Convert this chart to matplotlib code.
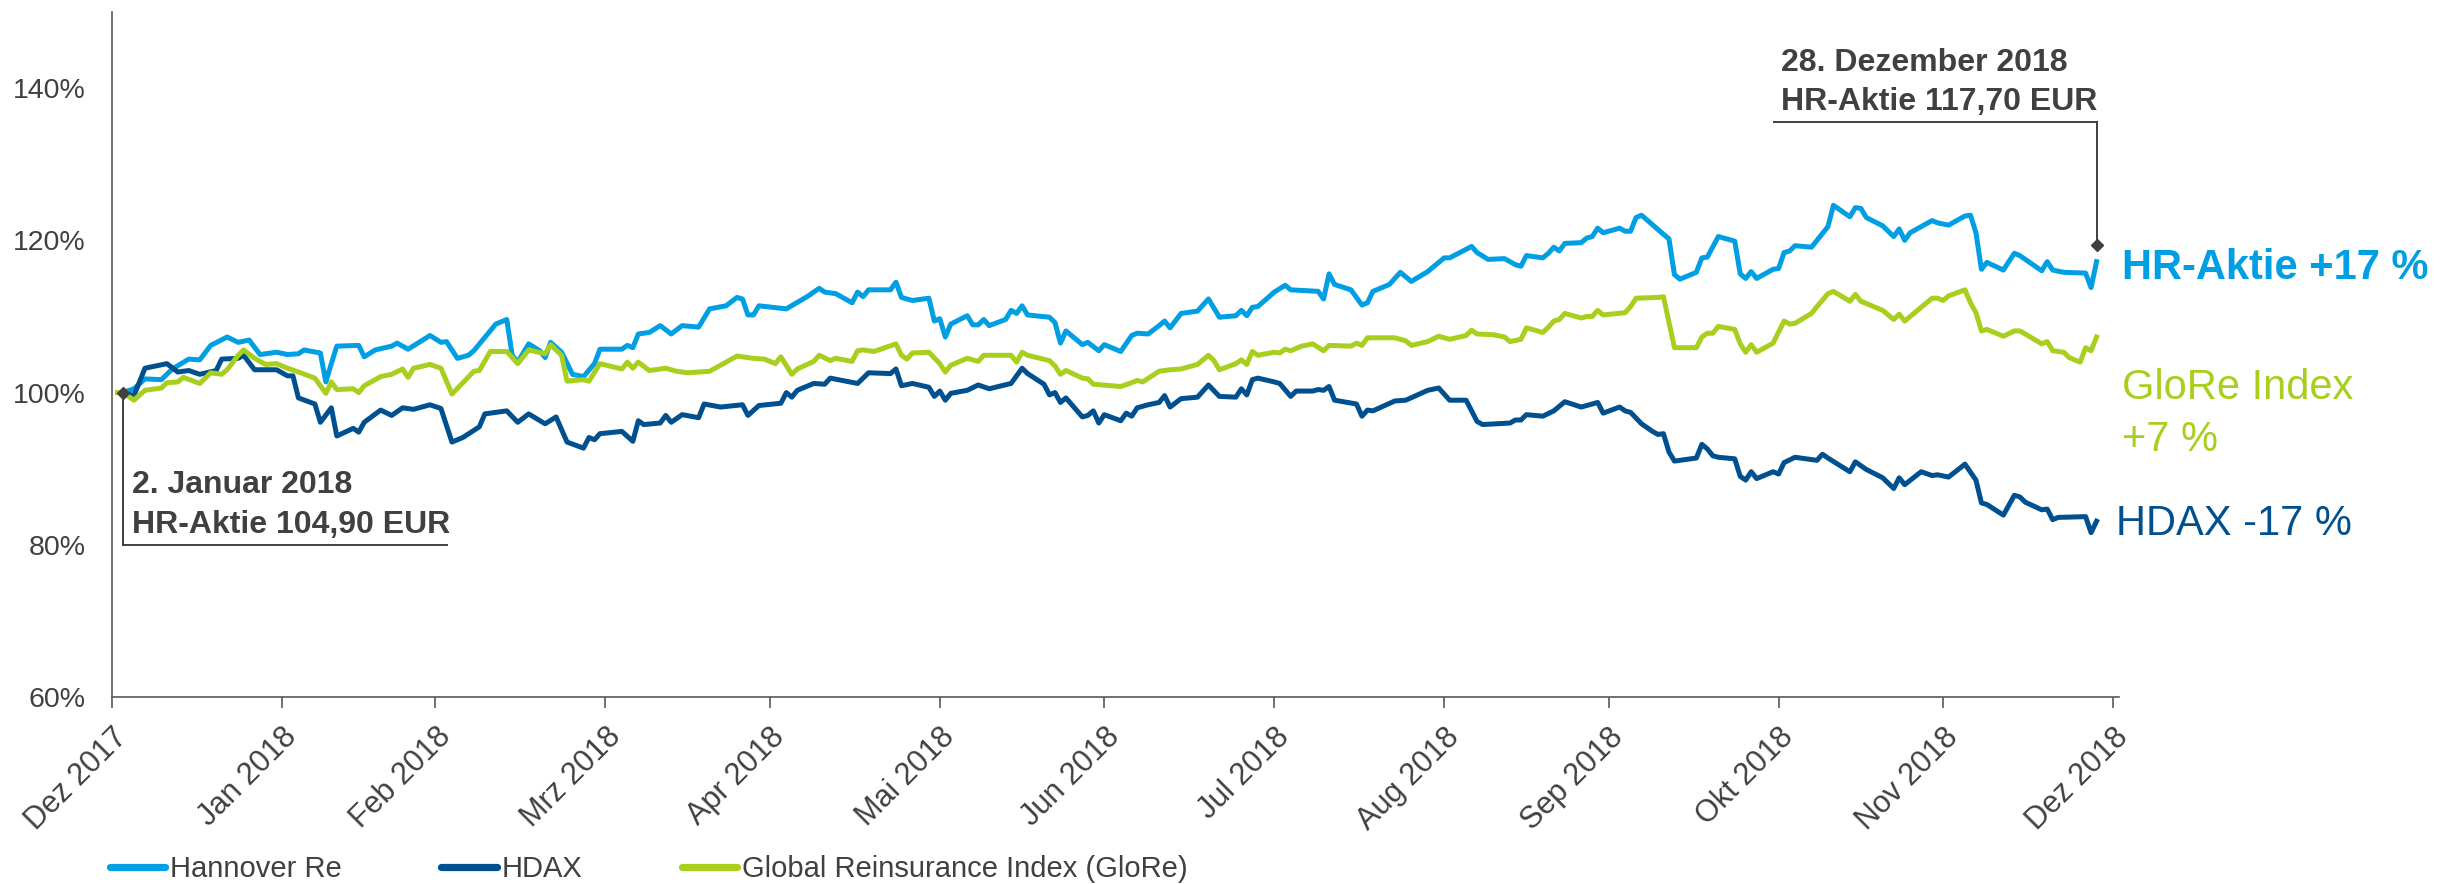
import matplotlib
matplotlib.use("Agg")
import matplotlib.pyplot as plt
import matplotlib.transforms as mtransforms
import numpy as np
import pandas as pd

# Tage ab dem 31.12.2017 (Tag 0) und Wertentwicklung in % (Start = 100 %)
hr_dia = [2, 4, 6, 9, 11, 14, 16, 18, 21, 23, 25, 27, 30, 32, 34, 35, 38, 39, 40, 41,
          45, 46, 48, 51, 52, 54, 56, 58, 60, 61, 63, 65, 66, 70, 72, 73, 74, 76, 78, 79,
          80, 82, 84, 86, 88, 89,
          93, 94, 95, 96, 98, 100, 102, 104, 107, 109, 112, 114, 115, 116, 117, 118, 123, 127, 129, 130,
          132, 135, 136, 137, 138, 142, 143, 144, 146, 149, 150, 151, 152, 153, 156, 157, 158, 159, 160, 163,
          164, 165, 166, 167, 171, 172, 173, 174, 177, 178,
          180, 181, 184, 186, 187, 189, 191, 192, 193, 195, 198, 200, 202, 205, 206, 207, 208, 209, 212, 214,
          215, 220, 221, 222, 223, 226, 228, 229, 230, 233, 235, 237, 240, 243, 244, 248, 249, 251, 254, 256,
          257, 258, 261, 262, 263, 264, 265, 268,
          269, 270, 271, 272, 275, 276, 277, 278, 279, 283, 284, 285, 286, 289, 290, 291, 293, 296, 297, 298,
          299, 300, 303, 304, 305, 306, 307, 310, 313, 314, 317, 318, 319, 320, 323, 325, 326, 327, 328, 332,
          333, 335, 338, 339, 340, 341, 342, 345, 347, 348, 352, 353, 354, 356, 360, 361, 362]
hr_valor = [100.0, 100.5, 101.8, 101.7, 103.1, 104.4, 104.3, 106.2, 107.3, 106.6,
            106.9, 105.0, 105.3, 105.0, 105.1, 105.6, 105.2, 101.4, 103.8, 106.1,
            106.2, 104.7, 105.6, 106.1, 106.5, 105.7, 106.6, 107.5, 106.6, 106.7,
            104.5, 104.9, 105.5, 109.0, 109.6, 104.9, 104.0, 106.4, 105.5, 104.6,
            106.6, 105.3, 102.4, 102.1, 103.8, 105.7,
            105.7, 106.2, 105.9, 107.7, 107.9, 108.8, 107.7, 108.8, 108.6, 111.0,
            111.4, 112.5, 112.3, 110.2, 110.2, 111.4, 111.0, 112.7, 113.7, 113.2,
            113.0, 111.8, 113.2, 112.6, 113.5, 113.5, 114.5, 112.5, 112.1, 112.4,
            109.4, 109.7, 107.3, 109.0, 110.1, 108.9, 108.9, 109.6, 108.8, 109.6,
            110.8, 110.4, 111.4, 110.2, 109.9, 109.2, 106.5, 108.1, 106.3, 106.6,
            105.5, 106.3, 105.4, 107.5, 107.8, 107.7, 108.8, 109.4, 108.5, 110.4,
            110.7, 112.3, 109.9, 110.1, 110.8, 110.1, 111.2, 111.3, 113.2, 114.1,
            113.5, 113.3, 112.3, 115.6, 114.2, 113.5, 111.5, 111.8, 113.3, 114.2,
            115.8, 114.6, 115.9, 117.7, 117.7, 119.2, 118.4, 117.5, 117.6, 116.8,
            116.6, 118.0, 117.7, 118.3, 119.1, 118.6, 119.6, 119.7,
            120.3, 120.5, 121.6, 121.0, 121.6, 121.2, 121.2, 123.0, 123.3, 120.8,
            120.2, 115.5, 114.9, 115.8, 117.7, 117.8, 120.5, 119.9, 115.6, 115.0,
            115.9, 115.0, 116.2, 116.3, 118.4, 118.6, 119.3, 119.1, 121.8, 124.6,
            123.1, 124.3, 124.2, 123.0, 121.9, 120.5, 121.5, 120.0, 121.0, 122.6,
            122.3, 122.0, 123.2, 123.3, 121.0, 116.2, 117.1, 116.1, 118.3, 118.0,
            116.0, 117.2, 116.1, 115.8, 115.7, 113.8, 117.2]

hdax_dia = [2, 4, 6, 10, 12, 14, 16, 19, 20, 23, 24, 26, 30, 32, 33, 34, 37, 38, 40, 41,
            44, 45, 46, 49, 51, 53, 55, 58, 60, 62, 64, 67, 68, 72, 74, 76, 79, 81, 83, 86,
            87, 88, 89,
            93, 95, 96, 97, 100, 101, 102, 104, 107, 108, 111, 115, 116, 118, 122, 123, 124, 125, 128, 130,
            131, 136, 138, 142, 143, 144, 146, 149, 150, 151, 152, 153, 156, 158, 160, 164, 166, 167, 170, 171,
            172, 173, 174, 177, 178,
            179, 180, 181, 184, 185, 186, 187, 189, 191, 192, 193, 195, 198, 200, 202, 205, 206, 207, 208, 209,
            212, 213, 215, 216, 219, 220, 221, 222, 223, 227, 228, 229, 230, 234, 236, 240, 242, 244, 247, 249,
            250, 255, 256, 257, 258, 261, 263, 265, 268,
            271, 272, 275, 276, 277, 279, 281, 282, 283, 284, 285, 289, 290, 291, 292, 293, 296, 297, 298, 299,
            300, 303, 304, 305, 307, 311, 312, 313, 317, 318, 320, 323, 325, 326, 327, 330, 332, 333, 335, 338,
            340, 341, 342, 345, 347, 348, 349, 352, 353, 354, 355, 360, 361, 362]
hdax_valor = [100.0, 99.6, 103.2, 103.8, 102.7, 102.9, 102.4, 102.9, 104.4, 104.5,
              104.9, 103.0, 103.0, 102.2, 102.2, 99.3, 98.5, 96.1, 98.0, 94.3,
              95.3, 94.8, 96.1, 97.7, 97.0, 98.0, 97.8, 98.4, 97.9, 93.5,
              94.1, 95.5, 97.2, 97.6, 96.1, 97.2, 95.9, 96.8, 93.5, 92.7,
              94.1, 93.8, 94.6,
              94.9, 93.6, 96.3, 95.8, 96.0, 97.0, 96.1, 97.1, 96.7, 98.5,
              98.1, 98.4, 97.0, 98.3, 98.6, 100.0, 99.4, 100.3, 101.2, 101.1,
              101.9, 101.2, 102.6, 102.5, 103.1, 100.9, 101.2, 100.7, 99.5, 100.2,
              99.0, 99.9, 100.3, 101.0, 100.5, 101.2, 103.2, 102.5, 101.1, 99.7,
              100.0, 98.7, 99.3, 96.8, 97.0,
              97.6, 96.0, 97.1, 96.3, 97.3, 96.9, 98.0, 98.4, 98.7, 99.6,
              98.1, 99.2, 99.4, 101.0, 99.5, 99.4, 100.5, 99.7, 101.7, 101.9,
              101.4, 101.2, 99.5, 100.2, 100.2, 100.4, 100.3, 100.8, 99.0, 98.5,
              96.9, 97.7, 97.6, 98.9, 99.0, 100.3, 100.6, 99.0, 99.0, 96.2,
              95.8, 96.0, 96.4, 96.4, 97.1, 96.9, 97.6, 98.8, 98.1,
              98.7, 97.3, 98.1, 97.6, 97.4, 95.9, 94.9, 94.5, 94.6, 92.2,
              91.0, 91.4, 93.2, 92.6, 91.7, 91.5, 91.3, 89.0, 88.5, 89.6,
              88.7, 89.6, 89.3, 90.8, 91.5, 91.1, 91.9, 91.4, 89.6, 90.9,
              89.9, 88.8, 87.4, 88.8, 87.9, 89.6, 89.1, 89.2, 88.9, 90.6,
              88.5, 85.5, 85.3, 83.9, 86.5, 86.3, 85.6, 84.6, 84.7, 83.3,
              83.6, 83.7, 81.6, 83.1]

glore_dia = [1, 2, 4, 6, 9, 10, 12, 13, 16, 18, 20, 21, 23, 24, 26, 28, 30, 32, 34, 37,
             39, 40, 41, 44, 45, 46, 49, 51, 53, 54, 55, 58, 60, 62, 66, 67, 69, 72, 74, 76,
             79, 80, 82, 83, 86, 87, 89,
             93, 94, 95, 96, 98, 101, 103, 105, 109, 110, 112, 114, 117, 119, 121, 122, 124, 125, 128, 129,
             131, 132, 135, 136, 137, 139, 143, 144, 145, 146, 149, 151, 152, 153, 156, 158, 159, 164, 165, 166,
             167, 171, 172, 173, 174, 177, 178,
             179, 184, 186, 187, 188, 191, 193, 195, 198, 200, 201, 202, 205, 206, 207, 208, 209, 212, 213, 214,
             215, 217, 219, 221, 222, 226, 227, 228, 229, 234, 236, 237, 240, 242, 244, 247, 248, 249, 252, 254,
             255, 257, 258, 261, 262, 263, 264, 265, 268,
             269, 270, 271, 272, 276, 277, 278, 282, 283, 285, 289, 290, 291, 292, 293, 296, 297, 298, 299, 300,
             303, 305, 306, 307, 310, 311, 313, 314, 317, 318, 319, 323, 325, 326, 327, 332, 333, 334, 335, 338,
             339, 340, 341, 342, 345, 347, 348, 349, 352, 353, 354, 356, 357, 359, 360, 361, 362]
glore_valor = [100.0, 100.0, 99.0, 100.3, 100.6, 101.3, 101.4, 102.0, 101.2, 102.6,
               102.4, 103.0, 104.9, 105.6, 104.5, 103.7, 103.8, 103.2, 102.7, 101.9,
               99.9, 101.4, 100.4, 100.5, 100.0, 100.9, 102.1, 102.4, 103.1, 102.0,
               103.2, 103.7, 103.2, 99.8, 102.8, 102.9, 105.4, 105.4, 103.8, 105.6,
               105.1, 106.3, 104.9, 101.5, 101.7, 101.5, 103.8,
               103.1, 104.0, 103.2, 104.0, 102.9, 103.2, 102.8, 102.6, 102.8, 103.2,
               104.0, 104.8, 104.5, 104.4, 103.8, 104.7, 102.4, 103.1, 104.1, 104.9,
               104.2, 104.5, 104.1, 105.5, 105.6, 105.4, 106.4, 104.9, 104.4, 105.2,
               105.3, 103.8, 102.7, 103.6, 104.5, 104.1, 104.9, 104.9, 104.0, 105.3,
               104.9, 104.2, 103.5, 102.4, 102.9, 101.9, 101.8,
               101.1, 100.8, 101.3, 101.6, 101.4, 102.8, 103.0, 103.1, 103.7, 104.9,
               104.2, 103.0, 103.8, 104.3, 103.7, 105.4, 104.9, 105.3, 105.2, 105.7,
               105.5, 106.1, 106.4, 105.5, 106.2, 106.1, 106.5, 106.2, 107.2, 107.2,
               106.8, 106.2, 106.7, 107.4, 107.0, 107.5, 108.2, 107.7, 107.6, 107.3,
               106.7, 107.0, 108.5, 107.9, 108.6, 109.4, 109.6, 110.4, 109.8,
               110.0, 110.0, 110.8, 110.2, 110.5, 111.3, 112.4, 112.5, 112.6, 105.9,
               105.9, 107.3, 107.8, 107.8, 108.7, 108.3, 106.4, 105.3, 106.3, 105.3,
               106.5, 109.4, 109.0, 109.1, 110.4, 111.3, 113.0, 113.3, 112.0, 112.9,
               112.0, 110.8, 109.6, 110.3, 109.4, 112.4, 112.4, 112.1, 112.7, 113.5,
               111.8, 110.5, 108.1, 108.3, 107.4, 108.1, 108.1, 107.7, 106.4, 106.7,
               105.5, 105.3, 104.6, 104.0, 105.9, 105.5, 107.3]

etiquetas_meses = ["Dez 2017", "Jan 2018", "Feb 2018", "Mrz 2018", "Apr 2018", "Mai 2018", "Jun 2018",
                   "Jul 2018", "Aug 2018", "Sep 2018", "Okt 2018", "Nov 2018", "Dez 2018"]
valores_y = [60, 80, 100, 120, 140]

AZUL_CLARO = "#009FE3"
AZUL_OSCURO = "#00508F"
VERDE = "#A8CF1E"
GRIS = "#404040"
GRIS_EJE = "#595959"

plt.rcParams['font.family'] = ['Liberation Sans', 'DejaVu Sans']

inicio = pd.Timestamp("2017-12-31")


def a_fechas(dias):
    return inicio + pd.to_timedelta(np.array(dias, dtype=float), unit="D")


fig = plt.figure(figsize=(24.41, 8.84), dpi=100)
ax = fig.add_axes([0.0459, 0.2115, 0.8222, 0.7749])

ax.plot(a_fechas(hr_dia), hr_valor, color=AZUL_CLARO, lw=3.6, label="Hannover Re")
ax.plot(a_fechas(hdax_dia), hdax_valor, color=AZUL_OSCURO, lw=3.6, label="HDAX")
ax.plot(a_fechas(glore_dia), glore_valor, color=VERDE, lw=3.6, label="Global Reinsurance Index (GloRe)")

ax.set_xlim(inicio, inicio + pd.Timedelta(days=366.1))
ax.set_ylim(60, 150)

# Monatsenden als Ticks
fines_mes = pd.date_range("2018-01-01", periods=13, freq="MS") - pd.Timedelta(days=1)
ax.set_xticks(fines_mes)
ax.set_xticklabels(etiquetas_meses, rotation=45, ha="right", va="top", rotation_mode="anchor")
ax.set_yticks(valores_y)
ax.set_yticklabels([f"{v}%" for v in valores_y])

ax.tick_params(axis="y", length=0, pad=19, labelsize=20.5, labelcolor=GRIS)
ax.tick_params(axis="x", length=8, width=1.2, direction="out", color=GRIS_EJE,
               pad=10, labelsize=22, labelcolor=GRIS)
for lado in ["top", "right"]:
    ax.spines[lado].set_visible(False)
for lado in ["left", "bottom"]:
    ax.spines[lado].set_color(GRIS_EJE)
    ax.spines[lado].set_linewidth(1.2)

# Anmerkung Jahresanfang
fecha_ini = a_fechas([hr_dia[0]])[0]
ax.plot([fecha_ini, fecha_ini], [hr_valor[0], 80], color=GRIS, lw=1.4)
ax.plot([fecha_ini, inicio + pd.Timedelta(days=61.1)], [80, 80], color=GRIS, lw=1.4)
ax.plot([fecha_ini], [hr_valor[0]], marker="D", ms=6.5, color=GRIS)
ax.text(inicio + pd.Timedelta(days=3.6), 86.8, "2. Januar 2018", fontsize=23,
        fontweight="bold", color=GRIS, va="baseline")
ax.text(inicio + pd.Timedelta(days=3.6), 81.6, "HR-Aktie 104,90 EUR", fontsize=23,
        fontweight="bold", color=GRIS, va="baseline")

# Anmerkung Jahresende
fecha_fin = a_fechas([hr_dia[-1]])[0]
marca_fin = hr_valor[-1] + 2.2
ax.plot([fecha_fin, fecha_fin], [marca_fin, 135.5], color=GRIS, lw=1.4)
ax.plot([inicio + pd.Timedelta(days=303.2), fecha_fin], [135.5, 135.5], color=GRIS, lw=1.4)
ax.plot([fecha_fin], [marca_fin], marker="D", ms=6.5, color=GRIS)
ax.text(inicio + pd.Timedelta(days=304.4), 142.3, "28. Dezember 2018", fontsize=23,
        fontweight="bold", color=GRIS, va="baseline")
ax.text(inicio + pd.Timedelta(days=304.4), 137.1, "HR-Aktie 117,70 EUR", fontsize=23,
        fontweight="bold", color=GRIS, va="baseline")

# Beschriftungen rechts
trans = mtransforms.blended_transform_factory(ax.transAxes, ax.transData)
ax.text(1.0015, 114.9, "HR-Aktie +17 %", transform=trans, fontsize=30, fontweight="bold",
        color=AZUL_CLARO, va="baseline", clip_on=False)
ax.text(1.0015, 99.1, "GloRe Index", transform=trans, fontsize=30,
        color=VERDE, va="baseline", clip_on=False)
ax.text(1.0015, 92.3, "+7 %", transform=trans, fontsize=30,
        color=VERDE, va="baseline", clip_on=False)
ax.text(0.9985, 81.3, "HDAX -17 %", transform=trans, fontsize=30,
        color=AZUL_OSCURO, va="baseline", clip_on=False)

leyenda = fig.legend(loc="center left", bbox_to_anchor=(110 / 2441, 1 - 869 / 884), ncol=3,
                     frameon=False, fontsize=21, handlelength=1.9, handletextpad=0.17,
                     columnspacing=3.4, borderpad=0, borderaxespad=0, labelcolor=GRIS)
for linea in leyenda.get_lines():
    linea.set_linewidth(5.2)
    linea.set_solid_capstyle("round")

fig.savefig("out.png", dpi=100)
